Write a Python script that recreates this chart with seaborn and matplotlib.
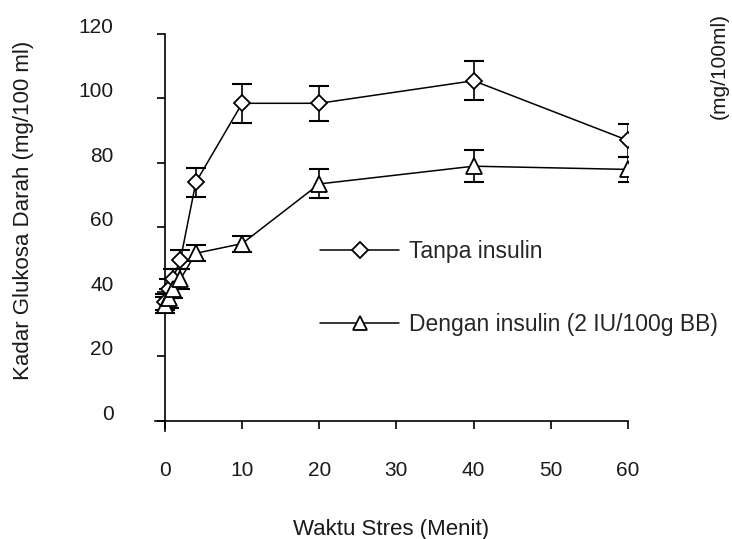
import matplotlib
matplotlib.use("Agg")
import matplotlib.pyplot as plt
import matplotlib.transforms as mtransforms
import seaborn as sns
import pandas as pd
from matplotlib.lines import Line2D

sns.set_theme(style="white")
plt.rcParams['font.family'] = ['Liberation Sans', 'DejaVu Sans']

# Data
waktu = [0, 0.5, 1, 2, 4, 10, 20, 40, 60]
tanpa_insulin = [37, 41, 44, 50, 74, 98.5, 98.5, 105.5, 87]
tanpa_err = [2.5, 3, 3, 3, 4.5, 6, 5.5, 6, 5]
dengan_insulin = [36, 38, 41, 44, 52, 55, 73.5, 79, 78]
dengan_err = [2.5, 3, 3, 3, 2.5, 2.5, 4.5, 5, 4]
label_tanpa = "Tanpa insulin"
label_dengan = "Dengan insulin (2 IU/100g BB)"
xticks = [0, 10, 20, 30, 40, 50, 60]
yticks = [0, 20, 40, 60, 80, 100, 120]

df = pd.DataFrame({
    "Waktu": waktu * 2,
    "Kadar": tanpa_insulin + dengan_insulin,
    "Err": tanpa_err + dengan_err,
    "Grup": [label_tanpa] * len(waktu) + [label_dengan] * len(waktu),
})

FS_TICK = 15
FS_LAB = 16
FS_LEG = 16.5
TXT = '#1a1a1a'

fig = plt.figure(figsize=(7.32, 5.39), dpi=100)
ax = fig.add_axes([0.2117, 0.201, 0.646, 0.736])

sns.lineplot(data=df, x="Waktu", y="Kadar", hue="Grup",
             palette=["black", "black"], linewidth=1.1, legend=False, ax=ax)

markers = {label_tanpa: "D", label_dengan: "^"}
msize = {label_tanpa: 8.5, label_dengan: 11}
for g, sub in df.groupby("Grup", sort=False):
    ax.errorbar(sub["Waktu"], sub["Kadar"], yerr=sub["Err"], fmt="none",
                ecolor="black", elinewidth=1.2, capsize=7, capthick=1.5, zorder=3)
    ax.plot(sub["Waktu"], sub["Kadar"], linestyle="none", marker=markers[g],
            markersize=msize[g], markerfacecolor="white", markeredgecolor="black",
            markeredgewidth=1.3, zorder=4)

ax.set_xlim(-1.3, 60)
ax.set_ylim(-3, 120)
ax.spines['left'].set_position(('data', 0))
ax.spines['bottom'].set_position(('data', 0))
ax.spines['top'].set_visible(False)
ax.spines['right'].set_visible(False)
for s in ['left', 'bottom']:
    ax.spines[s].set_color('black')
    ax.spines[s].set_linewidth(1.2)

ax.set_xticks(xticks)
ax.set_yticks(yticks)
ax.tick_params(axis='both', which='both', direction='out', length=6, width=1.2,
               color='black', labelsize=FS_TICK, labelcolor=TXT)
ax.tick_params(axis='y', pad=31, left=True)
ax.tick_params(axis='x', pad=23, bottom=True)
offset = mtransforms.ScaledTranslation(0, -3 / 100, fig.dpi_scale_trans)
for lab in ax.get_yticklabels():
    lab.set_verticalalignment('bottom')
    lab.set_transform(lab.get_transform() + offset)

ax.set_xlabel("Waktu Stres (Menit)", fontsize=FS_LAB, color=TXT)
ax.xaxis.set_label_coords(0.5, -0.222)
ax.set_ylabel("Kadar Glukosa Darah (mg/100 ml)", fontsize=FS_LAB, color=TXT)
ax.yaxis.set_label_coords(-0.255, 0.555)

handles = [
    Line2D([0], [0], color='black', lw=1.1, marker='D', markersize=8,
           markerfacecolor='white', markeredgecolor='black', markeredgewidth=1.3),
    Line2D([0], [0], color='black', lw=1.1, marker='^', markersize=10,
           markerfacecolor='white', markeredgecolor='black', markeredgewidth=1.3),
]
ax.legend(handles, [label_tanpa, label_dengan], loc='center left',
          bbox_to_anchor=(0.325, 0.36), frameon=False, handlelength=3.45,
          numpoints=1, labelspacing=2.2, fontsize=FS_LEG, handletextpad=0.45,
          borderpad=0)

fig.text(0.982, 0.975, "(mg/100ml)", rotation=90, fontsize=FS_TICK, color=TXT,
         ha='center', va='top')

fig.savefig("out.png", dpi=100, facecolor='white')
